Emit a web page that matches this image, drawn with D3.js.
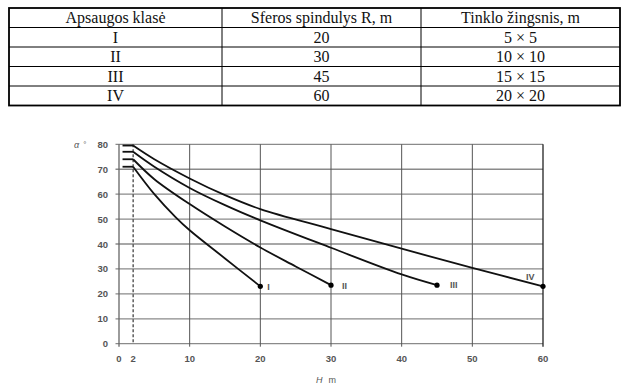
<!DOCTYPE html>
<html>
<head>
<meta charset="utf-8">
<script src="https://cdn.jsdelivr.net/npm/d3@7"></script>
<style>
  html, body { margin: 0; padding: 0; background: #fff; }
  svg { display: block; }
</style>
</head>
<body>
<svg id="chart" width="630" height="392"></svg>
<script>
// ---- Table data ----
const tableHeaders = ["Apsaugos klasė", "Sferos spindulys R, m", "Tinklo žingsnis, m"];
const classes = ["I", "II", "III", "IV"];
const sphereRadius = ["20", "30", "45", "60"];
const meshSize = ["5 × 5", "10 × 10", "15 × 15", "20 × 20"];

// ---- Chart data: protection angle α (°) vs height H (m) ----
const curveI   = [[2, 71], [5, 60], [8, 50.8], [10, 45.5], [15, 34.2], [20, 23]];
const curveII  = [[2, 74], [5, 66], [10, 56], [15, 47], [20, 38.6], [25, 31], [30, 23.5]];
const curveIII = [[2, 77], [5, 71], [10, 62.5], [15, 55.6], [20, 49.5], [30, 38.5], [40, 27.8], [45, 23.5]];
const curveIV  = [[2, 79.5], [5, 74], [10, 66.3], [15, 59.6], [20, 54], [30, 46], [40, 38.1], [50, 30.4], [60, 23]];
const curveLabels = ["I", "II", "III", "IV"];
const xTicks = [0, 2, 10, 20, 30, 40, 50, 60];
const xGrid = [10, 20, 30, 40, 50, 60];
const yTicks = [0, 10, 20, 30, 40, 50, 60, 70, 80];
const startH = 0.5;   // start of the horizontal stub segments
const dashedH = 2;

const svg = d3.select("#chart");

// ================= TABLE =================
const colBounds = [9, 222, 421, 620];
const rowBounds = [8, 27.5, 47, 66.5, 86, 105.5];
const tableRows = [tableHeaders].concat(classes.map((c, i) => [c, sphereRadius[i], meshSize[i]]));

const tg = svg.append("g");
rowBounds.slice(1, -1).forEach(yy => {
  tg.append("line").attr("x1", colBounds[0]).attr("x2", colBounds[3])
    .attr("y1", yy).attr("y2", yy).attr("stroke", "#000").attr("stroke-width", 1);
});
colBounds.slice(1, -1).forEach(xx => {
  tg.append("line").attr("x1", xx).attr("x2", xx)
    .attr("y1", rowBounds[0]).attr("y2", rowBounds[rowBounds.length - 1])
    .attr("stroke", "#000").attr("stroke-width", 1);
});
tg.append("rect").attr("x", colBounds[0]).attr("y", rowBounds[0])
  .attr("width", colBounds[3] - colBounds[0]).attr("height", rowBounds[5] - rowBounds[0])
  .attr("fill", "none").attr("stroke", "#000").attr("stroke-width", 1.8);

tableRows.forEach((row, r) => {
  row.forEach((txt, c) => {
    tg.append("text")
      .attr("x", (colBounds[c] + colBounds[c + 1]) / 2)
      .attr("y", (rowBounds[r] + rowBounds[r + 1]) / 2 + 5.5)
      .attr("text-anchor", "middle")
      .attr("font-family", "'Liberation Serif', 'Times New Roman', serif")
      .attr("font-size", 16)
      .attr("fill", "#111")
      .text(txt);
  });
});

// ================= CHART =================
const x = d3.scaleLinear().domain([0, 60]).range([119, 543]);
const y = d3.scaleLinear().domain([0, 80]).range([343.7, 144.3]);
const g = svg.append("g");
const labelFont = "'Liberation Sans', Arial, sans-serif";

g.selectAll(".hgrid").data(yTicks).enter().append("line")
  .attr("x1", x(0) - 3.5).attr("x2", x(60))
  .attr("y1", d => y(d)).attr("y2", d => y(d))
  .attr("stroke", "#8a8a8a").attr("stroke-width", 1.3);

g.selectAll(".vgrid").data(xGrid).enter().append("line")
  .attr("x1", d => x(d)).attr("x2", d => x(d))
  .attr("y1", y(80)).attr("y2", y(0) + 3)
  .attr("stroke", d => d === 60 ? "#222" : "#555").attr("stroke-width", d => d === 60 ? 1.3 : 1);

g.append("line").attr("x1", x(0)).attr("x2", x(0))
  .attr("y1", y(80)).attr("y2", y(0) + 3)
  .attr("stroke", "#666").attr("stroke-width", 1.3);

g.append("line").attr("x1", x(dashedH)).attr("x2", x(dashedH))
  .attr("y1", y(80)).attr("y2", y(0))
  .attr("stroke", "#333").attr("stroke-width", 1.2).attr("stroke-dasharray", "3,2");

g.selectAll(".ylab").data(yTicks).enter().append("text")
  .attr("x", 108).attr("y", d => y(d) + 3.5)
  .attr("text-anchor", "end")
  .attr("font-family", labelFont).attr("font-size", 9.5).attr("font-weight", "bold")
  .attr("fill", "#555").text(d => d);

g.selectAll(".xlab").data(xTicks).enter().append("text")
  .attr("x", d => x(d)).attr("y", 361.5)
  .attr("text-anchor", "middle")
  .attr("font-family", labelFont).attr("font-size", 9.5).attr("font-weight", "bold")
  .attr("fill", "#555").text(d => d);

const at = g.append("text").attr("x", 74).attr("y", 148)
  .attr("font-family", labelFont).attr("font-size", 9).attr("fill", "#555");
at.append("tspan").attr("font-style", "italic").text("α");
at.append("tspan").attr("dx", 4).attr("font-size", 8).attr("dy", -1).text("°");

const ht = g.append("text").attr("x", 316).attr("y", 383)
  .attr("font-family", labelFont).attr("font-size", 9).attr("fill", "#555");
ht.append("tspan").attr("font-style", "italic").text("H");
ht.append("tspan").attr("dx", 6).text("m");

const curves = [curveI, curveII, curveIII, curveIV];
const line = d3.line().x(d => x(d[0])).y(d => y(d[1])).curve(d3.curveCatmullRom.alpha(0.5));

curves.forEach((pts) => {
  g.append("line")
    .attr("x1", x(startH)).attr("x2", x(pts[0][0]))
    .attr("y1", y(pts[0][1])).attr("y2", y(pts[0][1]))
    .attr("stroke", "#111").attr("stroke-width", 1.8);
  g.append("path").attr("d", line(pts))
    .attr("fill", "none").attr("stroke", "#111").attr("stroke-width", 1.8);
  const last = pts[pts.length - 1];
  g.append("circle").attr("cx", x(last[0])).attr("cy", y(last[1])).attr("r", 2.6).attr("fill", "#000");
});

const labelOffsets = [[7, 4], [11, 4], [13, 3], [-17, -6]];
curves.forEach((pts, i) => {
  const last = pts[pts.length - 1];
  g.append("text")
    .attr("x", x(last[0]) + labelOffsets[i][0])
    .attr("y", y(last[1]) + labelOffsets[i][1])
    .attr("font-family", labelFont).attr("font-size", 9).attr("font-weight", "bold")
    .attr("fill", "#555").text(curveLabels[i]);
});
</script>
</body>
</html>
